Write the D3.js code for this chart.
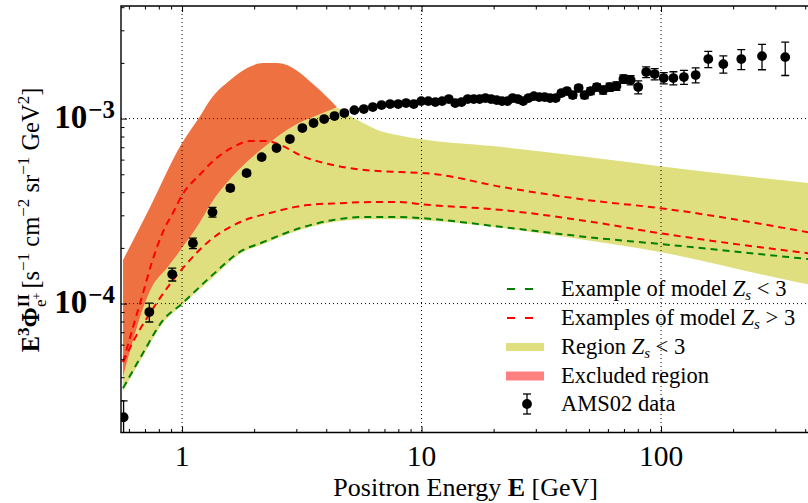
<!DOCTYPE html>
<html>
<head>
<meta charset="utf-8">
<script src="https://cdn.jsdelivr.net/npm/d3@7"></script>
<style>
body { margin: 0; background: #fff; }
svg { display: block; font-family: "Liberation Serif", "Times New Roman", serif; }
</style>
</head>
<body>
<svg id="chart" width="808" height="503"></svg>
<script>
// all fluxes below are in units of 1e-4 s^-1 cm^-2 sr^-1 GeV^2
var FLUX_UNIT = 1e-4;

// AMS02 positron data
var amsEnergy = [0.57, 0.73, 0.91, 1.11, 1.34, 1.59, 1.86, 2.15, 2.48, 2.82, 3.18, 3.54, 3.92, 4.33, 4.76,
    5.24, 5.74, 6.26, 6.81, 7.39, 7.99, 8.62, 9.28, 9.97, 10.67, 11.42, 12.19, 12.99, 13.82, 14.69,
    15.59, 16.52, 17.48, 18.48, 19.51, 20.58, 21.68, 22.83, 24.01, 25.25, 26.57, 27.96, 29.44, 31.0,
    32.66, 34.43, 36.32, 38.34, 40.48, 42.79, 45.27, 47.93, 50.81, 53.93, 57.33, 61.04, 65.13, 69.64,
    74.66, 80.31, 86.71, 94.05, 102.6, 112.6, 124.6, 139.5, 157.5, 182.0, 216.3, 264, 330];
var amsFlux = [0.243, 0.90, 1.44, 2.12, 3.12, 4.21, 5.07, 6.19, 6.93, 7.75, 8.89, 9.46, 9.94, 10.32, 10.71,
    11.11, 11.26, 11.54, 11.83, 11.98, 11.98, 12.13, 11.98, 12.43, 12.43, 12.28, 12.43, 12.75, 12.13, 12.28,
    12.75, 12.75, 12.75, 12.91, 12.75, 12.59, 12.43, 12.43, 12.91, 12.75, 12.43, 12.91, 13.23, 13.07,
    13.07, 12.91, 12.91, 13.73, 14.08, 13.40, 14.62, 13.40, 14.08, 14.80, 14.26, 14.80, 14.99, 16.35,
    16.15, 14.80, 17.84, 17.40, 16.56, 16.56, 16.76, 17.19, 20.97, 19.70, 20.97, 21.76, 21.49];
var amsError = [0.055, 0.105, 0.115, 0.14, 0.19, 0.16, 0.17, 0.18, 0.18, 0.19, 0.2, 0.2, 0.21, 0.21, 0.22,
    0.22, 0.22, 0.23, 0.23, 0.24, 0.24, 0.25, 0.25, 0.26, 0.26, 0.27, 0.27, 0.28, 0.28, 0.29,
    0.29, 0.30, 0.30, 0.31, 0.32, 0.32, 0.33, 0.34, 0.35, 0.36, 0.37, 0.38, 0.39, 0.40,
    0.42, 0.44, 0.46, 0.48, 0.50, 0.52, 0.55, 0.58, 0.62, 0.66, 0.70, 0.75, 0.80, 0.86,
    0.92, 1.2, 1.2, 1.2, 1.15, 1.35, 1.45, 1.6, 2.1, 2.1, 2.6, 3.4, 4.4];

// example of model Zs < 3 (green)
var greenEnergy = [0.567, 0.687, 0.833, 1.0, 1.31, 1.80, 2.12, 3.11, 4.27, 5.92, 8.13, 9.86, 21.9, 49.1, 99, 411];
var greenFlux   = [0.349, 0.540, 0.814, 1.00, 1.39, 1.95, 2.12, 2.56, 2.83, 2.94, 2.94, 2.90, 2.59, 2.29, 2.10, 1.74];

// examples of model Zs > 3 (red)
var redAEnergy = [0.567, 0.624, 0.687, 0.749, 0.833, 0.917, 1.0, 1.19, 1.40, 1.63, 1.92, 2.26, 2.64, 3.11,
    4.27, 5.92, 8.13, 10.5, 21.9, 49.1, 99, 411];
var redAFlux   = [0.483, 0.746, 1.14, 1.68, 2.45, 3.10, 3.85, 5.00, 6.15, 7.01, 7.56, 7.56, 7.10, 6.35,
    5.61, 5.26, 5.14, 5.07, 4.26, 3.63, 3.28, 2.43];
var redBEnergy = [0.567, 0.636, 0.735, 0.917, 1.01, 1.31, 1.75, 2.40, 3.33, 4.57, 6.27, 8.13, 9.86, 21.9, 49.1, 99, 411];
var redBFlux   = [0.483, 0.651, 0.888, 1.34, 1.56, 2.20, 2.76, 3.12, 3.41, 3.49, 3.54, 3.54, 3.45, 3.20, 2.79, 2.40, 1.87];

// region Zs < 3 (yellow band)
var regionHiEnergy = [0.567, 0.749, 0.866, 1.0, 1.19, 1.31, 1.63, 2.18, 3.02, 3.52, 4.44,
    4.89, 5.70, 6.71, 7.90, 9.86, 21.9, 49.1, 99, 411];
var regionHiFlux   = [0.401, 1.23, 1.556, 1.995, 2.76, 3.41, 4.89, 6.93, 9.34, 10.19, 11.39,
    10.57, 9.46, 8.56, 8.14, 7.75, 7.01, 6.19, 5.53, 4.48];
var regionLoEnergy = [0.567, 0.687, 0.833, 1.0, 1.31, 1.80, 2.12, 3.11, 4.27, 5.92, 8.13, 9.86, 21.9, 49.1, 99, 336, 411];
var regionLoFlux   = [0.337, 0.520, 0.785, 0.981, 1.34, 1.90, 2.07, 2.50, 2.76, 2.86, 2.86, 2.83, 2.56, 2.20, 1.90, 1.34, 1.27];

// excluded region (orange band)
var excludedHiEnergy = [0.567, 0.735, 1.0, 1.19, 1.31, 1.59, 1.87, 2.18, 2.49, 2.74, 3.11, 3.52, 4.03, 4.44];
var excludedHiFlux   = [1.72, 3.32, 7.37, 10.32, 12.59, 16.14, 18.75, 19.95, 19.95, 19.46, 17.62, 15.36, 13.07, 11.5];
var excludedLoEnergy = [0.567, 0.749, 0.866, 1.0, 1.19, 1.31, 1.63, 2.18, 3.02, 3.52, 4.44];
var excludedLoFlux   = [0.401, 1.23, 1.556, 1.995, 2.76, 3.41, 4.89, 6.93, 9.34, 10.19, 11.5];

// ticks
var xMajorTicks = [1, 10, 100];
var xTickLabels = ["1", "10", "100"];
var yMajorTicks = [1e-4, 1e-3];
var yTickExponents = ["\u22124", "\u22123"];

var legendLabels = ["Example of model ", "Examples of model ", "Region ", "Excluded region", "AMS02 data"];
var legendTails  = [" < 3", " > 3", " < 3", "", ""];

var plotLeft = 121, plotTop = 6, plotBottom = 432.5, plotRight = 810.3;

var svg = d3.select("#chart");

var x = d3.scaleLog().domain([0.556, 420]).range([plotLeft, plotRight]);
var y = d3.scaleLog().domain([2.01e-5, 4.06e-3]).range([plotBottom, plotTop]);

svg.append("defs").append("clipPath").attr("id", "plotClip")
    .append("rect")
    .attr("x", plotLeft).attr("y", plotTop)
    .attr("width", plotRight - plotLeft).attr("height", plotBottom - plotTop);

function pairs(E, F) {
    return E.map(function(e, i) { return [e, F[i]]; });
}

var line = d3.line()
    .x(function(d) { return x(d[0]); })
    .y(function(d) { return y(d[1] * FLUX_UNIT); })
    .curve(d3.curveMonotoneX);

function bandPath(hiE, hiF, loE, loF) {
    var top = line(pairs(hiE, hiF));
    var bottom = line(pairs(loE, loF).reverse());
    return top + "L" + bottom.slice(1) + "Z";
}

var plot = svg.append("g").attr("clip-path", "url(#plotClip)");

plot.append("path")  // yellow band
    .attr("d", bandPath(regionHiEnergy, regionHiFlux, regionLoEnergy, regionLoFlux))
    .attr("fill", "#dfdf80");

plot.append("path")  // orange band
    .attr("d", bandPath(excludedHiEnergy, excludedHiFlux, excludedLoEnergy, excludedLoFlux))
    .attr("fill", "#ee7142");

// dotted grid
plot.selectAll("line.vgrid")
    .data(xMajorTicks)
    .enter().append("line")
    .attr("class", "vgrid")
    .attr("x1", function(d) { return x(d); }).attr("x2", function(d) { return x(d); })
    .attr("y1", plotTop).attr("y2", plotBottom)
    .attr("stroke", "#000").attr("stroke-width", 1).attr("stroke-dasharray", "1,3");
plot.selectAll("line.hgrid")
    .data(yMajorTicks)
    .enter().append("line")
    .attr("class", "hgrid")
    .attr("y1", function(d) { return y(d); }).attr("y2", function(d) { return y(d); })
    .attr("x1", plotLeft).attr("x2", plotRight)
    .attr("stroke", "#000").attr("stroke-width", 1).attr("stroke-dasharray", "1,3");

// model curves
var curves = [
    { E: redAEnergy, F: redAFlux, color: "#ff0000" },
    { E: redBEnergy, F: redBFlux, color: "#ff0000" },
    { E: greenEnergy, F: greenFlux, color: "#008000" }
];
plot.selectAll("path.model")
    .data(curves)
    .enter().append("path")
    .attr("class", "model")
    .attr("d", function(d) { return line(pairs(d.E, d.F)); })
    .attr("fill", "none")
    .attr("stroke", function(d) { return d.color; })
    .attr("stroke-width", 2)
    .attr("stroke-dasharray", "7,5");

// AMS02 points with error bars
var ams = amsEnergy.map(function(e, i) {
    return { E: e, F: amsFlux[i] * FLUX_UNIT, err: amsError[i] * FLUX_UNIT };
});
var pts = plot.selectAll("g.ams")
    .data(ams)
    .enter().append("g")
    .attr("class", "ams");
pts.append("line")
    .attr("x1", function(d) { return x(d.E); }).attr("x2", function(d) { return x(d.E); })
    .attr("y1", function(d) { return y(d.F + d.err); })
    .attr("y2", function(d) { return y(Math.max(d.F - d.err, 1e-6)); })
    .attr("stroke", "#000").attr("stroke-width", 1.3);
[1, -1].forEach(function(s) {
    pts.append("line")
        .attr("x1", function(d) { return x(d.E) - 4; }).attr("x2", function(d) { return x(d.E) + 4; })
        .attr("y1", function(d) { return y(Math.max(d.F + s * d.err, 1e-6)); })
        .attr("y2", function(d) { return y(Math.max(d.F + s * d.err, 1e-6)); })
        .attr("stroke", "#000").attr("stroke-width", 1.3);
});
pts.append("circle")
    .attr("cx", function(d) { return x(d.E); })
    .attr("cy", function(d) { return y(d.F); })
    .attr("r", 4.9)
    .attr("fill", "#000");

// axes: ticks point inwards
var xMinor = x.ticks().filter(function(t) { return xMajorTicks.indexOf(t) < 0; });
var yMinor = y.ticks().filter(function(t) { return yMajorTicks.every(function(m) { return Math.abs(t / m - 1) > 1e-6; }); });

function styleAxis(g) {
    g.select(".domain").remove();
    g.selectAll(".tick line").attr("stroke", "#000").attr("stroke-width", 1);
    g.selectAll(".tick text").remove();
}

svg.append("g").attr("transform", "translate(0," + plotBottom + ")")
    .call(d3.axisBottom(x).tickValues(xMajorTicks).tickSize(-6).tickFormat("")).call(styleAxis);
svg.append("g").attr("transform", "translate(0," + plotBottom + ")")
    .call(d3.axisBottom(x).tickValues(xMinor).tickSize(-3.5).tickFormat("")).call(styleAxis);
svg.append("g").attr("transform", "translate(0," + plotTop + ")")
    .call(d3.axisTop(x).tickValues(xMajorTicks).tickSize(-6).tickFormat("")).call(styleAxis);
svg.append("g").attr("transform", "translate(0," + plotTop + ")")
    .call(d3.axisTop(x).tickValues(xMinor).tickSize(-3.5).tickFormat("")).call(styleAxis);
svg.append("g").attr("transform", "translate(" + plotLeft + ",0)")
    .call(d3.axisLeft(y).tickValues(yMajorTicks).tickSize(-6).tickFormat("")).call(styleAxis);
svg.append("g").attr("transform", "translate(" + plotLeft + ",0)")
    .call(d3.axisLeft(y).tickValues(yMinor).tickSize(-3.5).tickFormat("")).call(styleAxis);

// frame
svg.append("path")
    .attr("d", "M" + plotRight + "," + plotTop + "H" + plotLeft + "V" + plotBottom + "H" + plotRight)
    .attr("fill", "none").attr("stroke", "#000").attr("stroke-width", 1.4);

// tick labels
svg.selectAll("text.xtick")
    .data(xMajorTicks)
    .enter().append("text")
    .attr("class", "xtick")
    .attr("x", function(d) { return x(d); })
    .attr("y", 466)
    .attr("text-anchor", "middle")
    .style("font-size", "29.5px")
    .text(function(d, i) { return xTickLabels[i]; });

var ytl = svg.selectAll("text.ytick")
    .data(yMajorTicks)
    .enter().append("text")
    .attr("class", "ytick")
    .attr("x", 115)
    .attr("y", function(d) { return y(d) + 9; })
    .attr("text-anchor", "end")
    .style("font-weight", "bold");
ytl.append("tspan").style("font-size", "33px").text("10");
ytl.append("tspan").style("font-size", "25px").attr("dy", -10).attr("dx", 1)
    .text(function(d, i) { return yTickExponents[i]; });

function addParts(textSel, parts) {
    var cur = 0;
    parts.forEach(function(p) {
        var off = p.off || 0;
        var t = textSel.append("tspan").text(p.t).attr("dy", off - cur);
        cur = off;
        if (p.size) t.style("font-size", p.size + "px");
        if (p.bold) t.style("font-weight", "bold");
        if (p.italic) t.style("font-style", "italic");
        if (p.dx) t.attr("dx", p.dx);
    });
}

// axis labels
var xl = svg.append("text")
    .attr("x", (plotLeft + plotRight) / 2).attr("y", 495.5)
    .attr("text-anchor", "middle").style("font-size", "26px");
addParts(xl, [{ t: "Positron Energy " }, { t: "E", bold: true }, { t: " [GeV]" }]);

var yl = svg.append("text")
    .attr("transform", "translate(39,220) rotate(-90)")
    .attr("text-anchor", "middle").style("font-size", "24.5px");
addParts(yl, [
    { t: "E", bold: true }, { t: "3", bold: true, size: 17, off: -10 },
    { t: "\u03a6", bold: true, off: 0 }, { t: "II", bold: true, size: 17, off: -10 },
    { t: "e", size: 17, off: 7, dx: -13 }, { t: "+", size: 12, off: 2 },
    { t: "[s", off: 0, dx: 4 }, { t: "\u22121", size: 17, off: -10 },
    { t: " cm", off: 0 }, { t: "\u22122", size: 17, off: -10 },
    { t: " sr", off: 0 }, { t: "\u22121", size: 17, off: -10 },
    { t: " GeV", off: 0 }, { t: "2", size: 17, off: -10 },
    { t: "]", off: 0 }
]);

// legend
var legendY = [289, 318, 347, 376, 404];
var legend = svg.append("g");
[["#008000", 0], ["#ff0000", 1]].forEach(function(d) {
    legend.append("line")
        .attr("x1", 507).attr("x2", 533)
        .attr("y1", legendY[d[1]]).attr("y2", legendY[d[1]])
        .attr("stroke", d[0]).attr("stroke-width", 2).attr("stroke-dasharray", "8,10");
});
legend.append("rect").attr("x", 506).attr("y", legendY[2] - 4).attr("width", 38).attr("height", 8).attr("fill", "#dfdf80");
legend.append("rect").attr("x", 506).attr("y", legendY[3] - 4.5).attr("width", 38).attr("height", 9).attr("fill", "#ff8080");
legend.append("line").attr("x1", 527).attr("x2", 527).attr("y1", legendY[4] - 10).attr("y2", legendY[4] + 10)
    .attr("stroke", "#000").attr("stroke-width", 1.3);
[-10, 10].forEach(function(o) {
    legend.append("line").attr("x1", 523).attr("x2", 531).attr("y1", legendY[4] + o).attr("y2", legendY[4] + o)
        .attr("stroke", "#000").attr("stroke-width", 1.3);
});
legend.append("circle").attr("cx", 527).attr("cy", legendY[4]).attr("r", 4.9).attr("fill", "#000");

legendLabels.forEach(function(lab, i) {
    var t = legend.append("text").attr("x", 561).attr("y", legendY[i] + 6.5).style("font-size", "22.5px");
    if (legendTails[i]) {
        addParts(t, [{ t: lab }, { t: "Z", italic: true }, { t: "s", italic: true, size: 15, off: 4 },
            { t: legendTails[i], off: 0 }]);
    } else {
        t.text(lab);
    }
});
</script>
</body>
</html>
